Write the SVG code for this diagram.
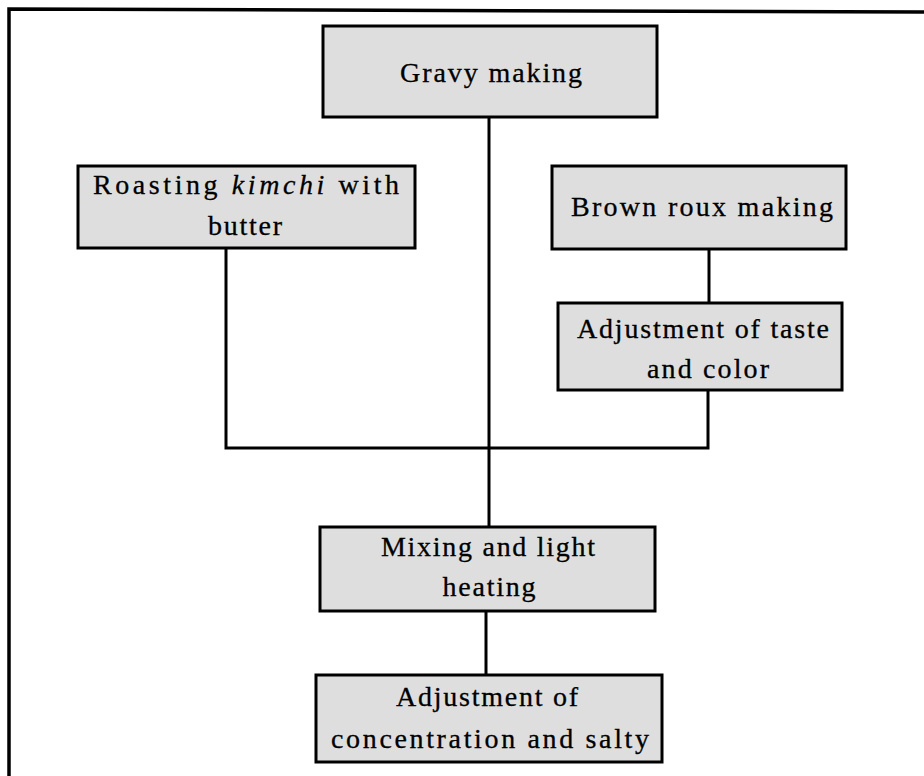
<svg xmlns="http://www.w3.org/2000/svg" width="924" height="776" viewBox="0 0 924 776">
<style>
.box{fill:#dedede;stroke:#000;stroke-width:3}
.t{font-family:"Liberation Serif","DejaVu Serif",serif;font-size:28px;fill:#000;stroke:#000;stroke-width:0.3;text-anchor:middle}
.c{fill:none;stroke:#000;stroke-width:3}
</style>
<rect x="0" y="0" width="924" height="776" fill="#fff"/>
<path d="M9 776 L9 9 L924 12" fill="none" stroke="#000" stroke-width="3.5"/>
<g id="connectors">
<line class="c" x1="489" y1="117" x2="489" y2="527"/>
<polyline class="c" points="226,249 226,448 708,448 708,390"/>
<line class="c" x1="709" y1="249" x2="709" y2="303"/>
<line class="c" x1="486" y1="611" x2="486" y2="675"/>
</g>
<g id="gravy">
<rect class="box" x="323" y="26" width="334" height="91"/>
<text class="t" x="491" y="82" textLength="182" lengthAdjust="spacing">Gravy making</text>
</g>
<g id="roasting">
<rect class="box" x="78" y="166" width="337" height="82"/>
<text class="t" x="246" y="194" textLength="306" lengthAdjust="spacing">Roasting <tspan font-style="italic">kimchi</tspan> with</text>
<text class="t" x="245" y="235" textLength="74" lengthAdjust="spacing">butter</text>
</g>
<g id="brownroux">
<rect class="box" x="552" y="166" width="294" height="83"/>
<text class="t" x="702" y="216" textLength="262" lengthAdjust="spacing">Brown roux making</text>
</g>
<g id="adjusttaste">
<rect class="box" x="558" y="303" width="284" height="87"/>
<text class="t" x="703" y="338" textLength="252" lengthAdjust="spacing">Adjustment of taste</text>
<text class="t" x="708" y="378" textLength="122" lengthAdjust="spacing">and color</text>
</g>
<g id="mixing">
<rect class="box" x="320" y="527" width="335" height="84"/>
<text class="t" x="488" y="556" textLength="214" lengthAdjust="spacing">Mixing and light</text>
<text class="t" x="489" y="596" textLength="93" lengthAdjust="spacing">heating</text>
</g>
<g id="adjustconc">
<rect class="box" x="316" y="675" width="346" height="87"/>
<text class="t" x="487" y="706" textLength="182" lengthAdjust="spacing">Adjustment of</text>
<text class="t" x="490" y="748" textLength="318" lengthAdjust="spacing">concentration and salty</text>
</g>
</svg>
